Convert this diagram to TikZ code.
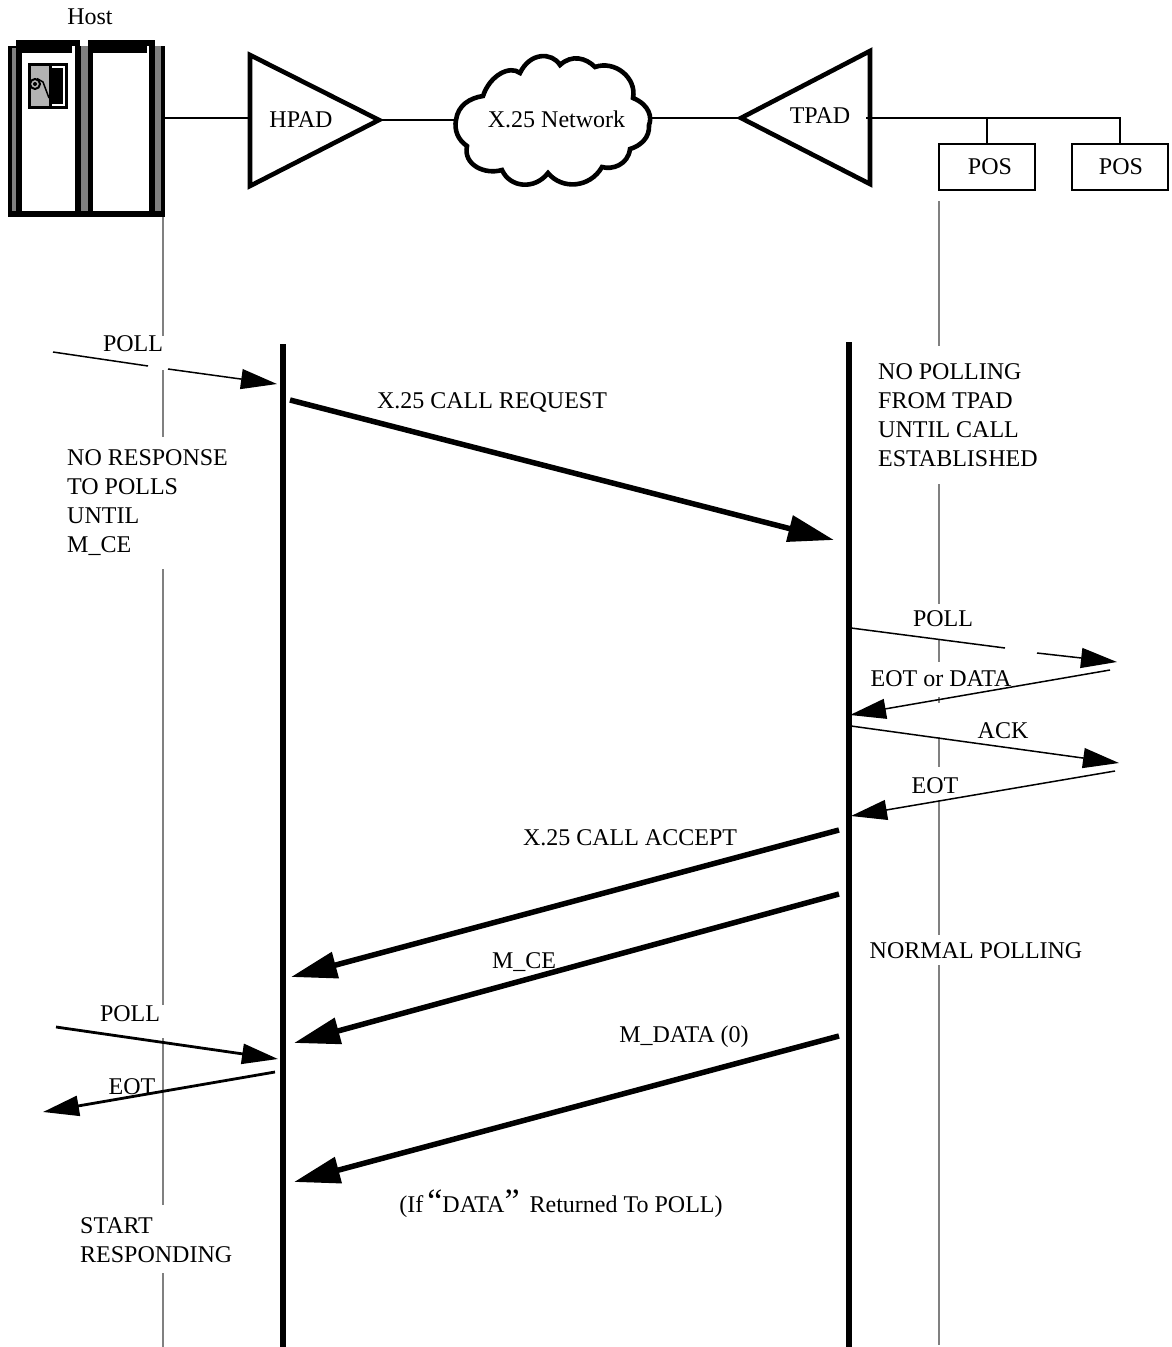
\documentclass[tikz,border=0pt]{standalone}
\usepackage{fontspec}
\setmainfont{Liberation Serif}
\usepackage{tikz}
\usetikzlibrary{arrows.meta}
\definecolor{GrisLinea}{RGB}{128,128,128}
\definecolor{GrisPanel}{RGB}{179,179,179}
\tikzset{
  lifeline/.style={GrisLinea,line width=2pt},
  padbar/.style={line width=6pt},
  padbox/.style={line width=4.6pt,line join=miter},
  link/.style={line width=2pt},
  thinmsg/.style={line width=1.5pt,-{Triangle[length=36pt,width=20pt]}},
  medmsg/.style={line width=2.8pt,-{Triangle[length=36pt,width=20pt]}},
  thickmsg/.style={line width=5.5pt,-{Triangle[length=46pt,width=26pt]}},
  txt/.style={inner sep=0pt,font=\fontsize{24}{29}\selectfont,text=black},
  posbox/.style={draw,line width=2pt,minimum width=96pt,minimum height=46pt,inner sep=0pt,font=\fontsize{24}{29}\selectfont}
}
\begin{document}
\begin{tikzpicture}[x=1pt,y=-1pt]
  \useasboundingbox (0,0) rectangle (1171,1347);
  % lifelines
  \draw[lifeline] (163,216)--(163,336) (163,370)--(163,437) (163,569)--(163,1005) (163,1038)--(163,1205) (163,1273)--(163,1347);
  \draw[lifeline] (939,201)--(939,346) (939,484)--(939,604) (939,639)--(939,662) (939,697)--(939,703) (939,737)--(939,767) (939,800)--(939,935) (939,965)--(939,1345);
  % host cabinet
  \fill (8,46) rectangle (165,217);
  \fill (16,40) rectangle (80,47);
  \fill (88,40) rectangle (155,47);
  \fill[white] (80,40) rectangle (88,46);
  \fill[GrisLinea] (12,48) rectangle (16,211);
  \fill[GrisLinea] (80.5,46) rectangle (88,211);
  \fill[GrisLinea] (155,46) rectangle (161,211);
  \fill[white] (22,53) rectangle (75,211);
  \fill[white] (72,46) rectangle (75,53);
  \fill[white] (93,53) rectangle (149,211);
  \fill[white] (147,46) rectangle (149,53);
  \fill (28,63) rectangle (68,109);
  \fill[GrisPanel] (31,66) rectangle (49,106);
  \draw[white,line width=2pt] (52,67)--(64,67)--(64,105)--(52,105);
  \draw[line width=2pt,fill=GrisPanel] (35,84) circle (5pt);
  \fill (35,84) circle (2pt);
  \draw[line width=1.5pt] (37,78.5)--(43,82)--(49,98);
  \node[txt] (host) at (90,17) {Host};
  % pads and cloud
  \draw[padbox,fill=white] (250,55)--(379,120)--(250,186)--cycle;
  \node[txt] (hpad) at (301,120) {HPAD};
  \draw[padbox,fill=white] (870,51)--(741,118)--(870,184)--cycle;
  \draw[line width=4.6pt] (870,50)--(870,185);
  \node[txt] (tpad) at (820,116) {TPAD};
  \draw[line width=4.6pt,fill=white] (456,120)
    .. controls (458,105) and (470,98) .. (483,96)
    .. controls (490,75) and (510,65) .. (520,73)
    .. controls (530,52) and (552,52) .. (560,65)
    .. controls (572,54) and (586,58) .. (595,67)
    .. controls (615,60) and (637,78) .. (633,98)
    .. controls (650,105) and (652,118) .. (649,125)
    .. controls (650,138) and (640,146) .. (630,149)
    .. controls (628,165) and (612,170) .. (602,167)
    .. controls (590,188) and (562,190) .. (548,173)
    .. controls (535,190) and (510,188) .. (502,170)
    .. controls (485,175) and (463,165) .. (467,146)
    .. controls (458,140) and (454,130) .. (456,120) -- cycle;
  \node[txt] (net) at (556.5,119) {X.25 Network};
  \node[posbox] (posA) at (987,167) {\hspace{6pt}POS};
  \node[posbox] (posB) at (1120,167) {\hspace{2pt}POS};
  \coordinate (hostR) at (165,118);
  \coordinate (hpadL) at (250,118);
  \coordinate (hpadR) at (380,120);
  \coordinate (netL) at (456,120);
  \coordinate (netR) at (651,118);
  \coordinate (tpadL) at (739,118);
  \coordinate (tpadR) at (866,118);
  \coordinate (busA) at (987,118);
  \coordinate (busB) at (1120,118);
  \draw[link] (hostR)--(hpadL);
  \draw[link] (hpadR)--(netL);
  \draw[link] (netR)--(tpadL);
  \draw[link] (tpadR)--(busB)--(posB.north);
  \draw[link] (busA)--(posA.north);
  % vertical bars
  \draw[padbar] (283,344)--(283,1347);
  \draw[padbar] (849,342)--(849,1347);
  % messages
  \draw[line width=1.5pt] (53,352)--(148,366);
  \draw[thinmsg] (168,369)--(277,384);
  \draw[thickmsg] (290,400)--(834,540);
  \draw[line width=1.5pt] (851,628)--(1005,648);
  \draw[thinmsg] (1037,653)--(1117,662);
  \draw[thinmsg] (1110,670)--(850,715);
  \draw[thinmsg] (851,726)--(1119,763);
  \draw[thinmsg] (1115,771)--(851,816);
  \draw[thickmsg] (839,830)--(291,977);
  \draw[thickmsg] (839,894)--(294,1043);
  \draw[thickmsg] (839,1036)--(294,1182);
  \draw[medmsg] (56,1027)--(278,1059);
  \draw[medmsg] (275,1072)--(43,1112);
  % labels
  \node[txt] (pollA) at (133,344) {POLL};
  \node[txt] (callreq) at (492,402) {X.25 CALL REQUEST};
  \node[txt,align=left,anchor=north west] (nopoll) at (878,363.5) {NO POLLING\\FROM TPAD\\UNTIL CALL\\ESTABLISHED};
  \node[txt,align=left,anchor=north west] (noresp) at (67,449) {NO RESPONSE\\TO POLLS\\UNTIL\\M\_CE};
  \node[txt] (pollB) at (943,619) {POLL};
  \node[txt] (eotdata) at (941,679) {EOT or DATA};
  \node[txt] (ack) at (1003,731) {ACK};
  \node[txt] (eotA) at (935,785.5) {EOT};
  \node[txt] (callacc) at (630,838) {X.25 CALL ACCEPT};
  \node[txt] (normal) at (976,950.5) {NORMAL POLLING};
  \node[txt] (mce) at (524,962) {M\_CE};
  \node[txt] (pollC) at (130,1014) {POLL};
  \node[txt] (mdata) at (684,1037) {M\_DATA (0)};
  \node[txt] (eotB) at (132,1087) {EOT};
  \node[txt,anchor=north west,align=left] (start) at (80,1217) {START\\RESPONDING};
  \node[txt] (ifdata) at (561,1204) {(If\,{\fontsize{34}{34}\selectfont``}DATA{\fontsize{34}{34}\selectfont''}\, Returned To POLL)};
\end{tikzpicture}
\end{document}
